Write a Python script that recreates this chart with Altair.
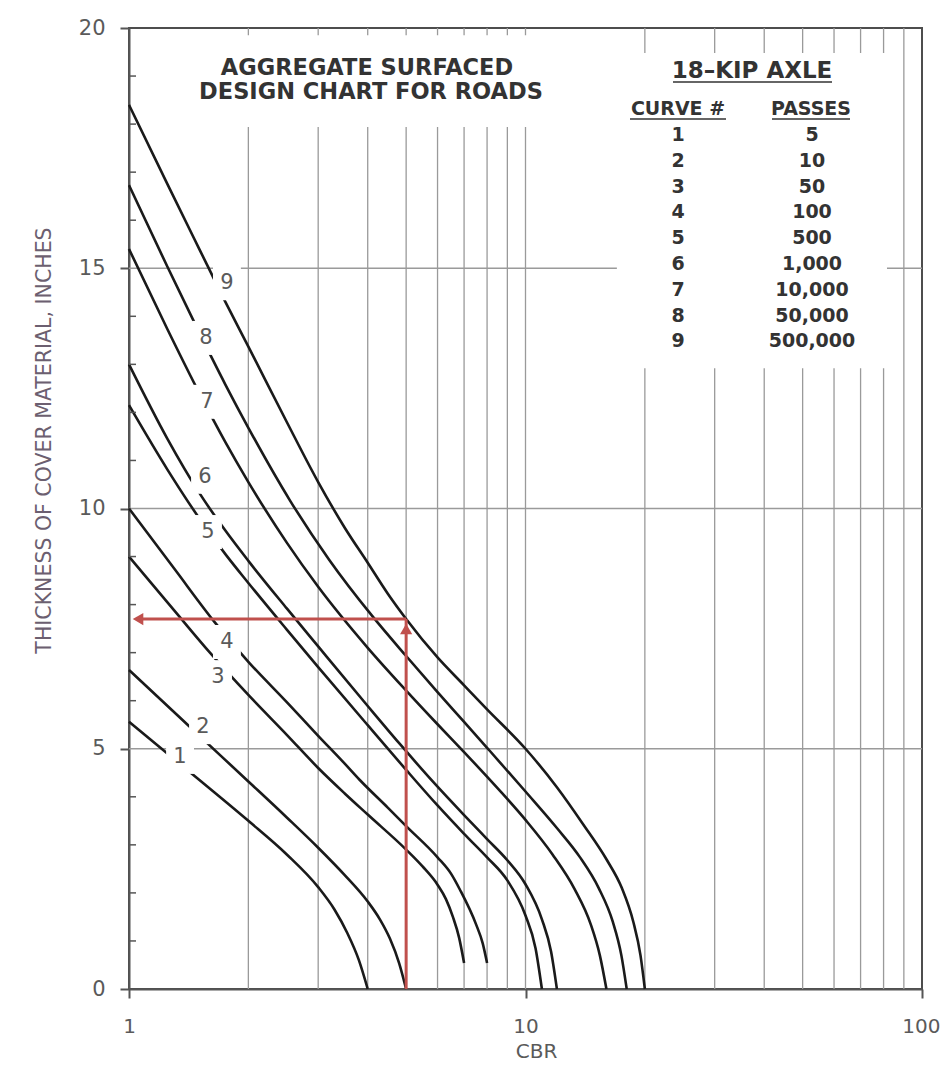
import altair as alt
import pandas as pd

# ---------------- data ----------------
curve_numbers = [1, 2, 3, 4, 5, 6, 7, 8, 9]
passes = ["5", "10", "50", "100", "500", "1,000", "10,000", "50,000", "500,000"]

c1_cbr = [1.0, 1.5, 2.0, 2.5, 3.0, 3.3, 3.55, 3.8, 4.0]
c1_thk = [5.56, 4.36, 3.5, 2.8, 2.12, 1.65, 1.17, 0.6, 0.0]

c2_cbr = [1.0, 1.5, 2.0, 2.5, 3.0, 3.5, 4.0, 4.3, 4.55, 4.8, 5.0]
c2_thk = [6.64, 5.28, 4.32, 3.57, 2.94, 2.37, 1.82, 1.44, 1.05, 0.54, 0.0]

c3_cbr = [1.0, 1.3, 1.6, 2.0, 2.5, 3.0, 3.5, 4.0, 5.0, 5.5, 6.0, 6.3, 6.56, 6.8, 7.0]
c3_thk = [9.0, 7.88, 7.0, 6.12, 5.29, 4.6, 4.07, 3.63, 2.9, 2.55, 2.17, 1.87, 1.5, 1.07, 0.54]

c4_cbr = [1.0, 1.3, 1.65, 2.0, 2.5, 3.0, 3.5, 3.82, 4.5, 5.0, 6.0, 6.5, 6.84, 7.5, 7.8, 8.0]
c4_thk = [10.0, 8.75, 7.62, 6.81, 5.97, 5.27, 4.69, 4.35, 3.77, 3.39, 2.74, 2.39, 2.06, 1.35, 0.95, 0.54]

c5_cbr = [1.0, 1.25, 1.5, 1.75, 2.0, 2.5, 3.0, 4.0, 5.0, 6.0, 7.0, 8.0, 9.0, 10.0, 10.6, 11.0]
c5_thk = [12.15, 10.81, 9.81, 9.05, 8.45, 7.48, 6.7, 5.49, 4.56, 3.82, 3.23, 2.74, 2.26, 1.53, 0.85, 0.0]

c6_cbr = [1.0, 1.25, 1.5, 1.75, 2.0, 2.5, 3.0, 4.0, 4.82, 5.85, 7.0, 8.0, 9.0, 10.0, 11.0, 11.6, 12.0]
c6_thk = [13.0, 11.45, 10.34, 9.54, 8.91, 7.92, 7.13, 5.89, 5.1, 4.31, 3.62, 3.12, 2.68, 2.18, 1.45, 0.78, 0.0]

c7_cbr = [1.0, 1.25, 1.5, 1.75, 2.0, 2.5, 3.0, 4.0, 5.0, 6.0, 7.0, 8.5, 10.0, 11.7, 13.3, 14.6, 15.4, 16.0]
c7_thk = [15.4, 13.73, 12.42, 11.38, 10.55, 9.29, 8.37, 7.1, 6.21, 5.51, 4.93, 4.18, 3.52, 2.8, 2.08, 1.35, 0.7, 0.0]

c8_cbr = [1.0, 1.25, 1.5, 1.75, 2.0, 2.55, 3.2, 4.1, 5.0, 6.0, 7.0, 8.0, 10.0, 12.0, 13.7, 15.3, 16.6, 17.45, 18.0]
c8_thk = [16.73, 15.03, 13.68, 12.58, 11.68, 10.16, 8.93, 7.77, 6.93, 6.18, 5.56, 5.02, 4.11, 3.35, 2.75, 2.1, 1.4, 0.7, 0.0]

c9_cbr = [1.0, 1.25, 1.5, 1.75, 2.0, 2.5, 3.0, 3.5, 4.0, 4.5, 5.0, 6.0, 7.0, 8.0, 10.0, 12.0, 14.0, 16.0, 17.5, 18.7, 19.5, 20.0]
c9_thk = [18.4, 16.75, 15.42, 14.3, 13.37, 11.8, 10.55, 9.6, 8.87, 8.22, 7.7, 6.9, 6.32, 5.82, 5.0, 4.2, 3.42, 2.7, 2.1, 1.4, 0.7, 0.0]

# curve number labels placed along the curves
label_cbr = [1.345, 1.537, 1.677, 1.766, 1.582, 1.555, 1.573, 1.564, 1.766]
label_thk = [4.83, 5.45, 6.49, 7.22, 9.51, 10.66, 12.22, 13.55, 14.69]

# example reading: CBR 5, 500,000 passes -> 7.7 in
arrow_cbr = 5.0
arrow_thk = 7.7
arrow_start_cbr = 1.06

x_ticks = [1, 10, 100]
y_ticks = [0, 5, 10, 15, 20]
grid_x = [2, 3, 4, 5, 6, 7, 8, 9, 10, 20, 30, 40, 50, 60, 70, 80, 90]
grid_y = [5, 10, 15]
minor_y = [1, 2, 3, 4, 6, 7, 8, 9, 11, 12, 13, 14, 16, 17, 18, 19]

# white areas behind the title and the passes table (data units)
box_cbr = [1.425, 17.0]
box_cbr2 = [11.66, 81.6]
box_thk = [17.94, 12.92]
box_thk2 = [19.85, 19.48]

# ---------------- tables ----------------
all_cbr = [c1_cbr, c2_cbr, c3_cbr, c4_cbr, c5_cbr, c6_cbr, c7_cbr, c8_cbr, c9_cbr]
all_thk = [c1_thk, c2_thk, c3_thk, c4_thk, c5_thk, c6_thk, c7_thk, c8_thk, c9_thk]
rows = []
for n, cs, ts in zip(curve_numbers, all_cbr, all_thk):
    for c, t in zip(cs, ts):
        rows.append({"curve": n, "cbr": c, "thk": t})
curves_df = pd.DataFrame(rows)

labels_df = pd.DataFrame({"curve": [str(n) for n in curve_numbers], "cbr": label_cbr, "thk": label_thk})
legend_df = pd.DataFrame({"row": curve_numbers, "num": [str(n) for n in curve_numbers], "passes": passes})
boxes_df = pd.DataFrame({"cbr": box_cbr, "cbr2": box_cbr2, "thk": box_thk, "thk2": box_thk2})
gridx_df = pd.DataFrame({"cbr": grid_x})
gridy_df = pd.DataFrame({"thk": grid_y})
minor_df = pd.DataFrame({"thk": minor_y})
arrow_df = pd.DataFrame({"cbr": [arrow_cbr], "cbr2": [arrow_start_cbr], "thk": [arrow_thk], "thk2": [0.0]})
one = pd.DataFrame({"k": [0]})

# ---------------- styling ----------------
FONT = "DejaVu Sans"
GRAY = "#5a5a5a"
DARK = "#333333"
AXC = "#555555"
RED = "#c0504d"
GRID = "#9a9a9a"

x_scale = alt.Scale(type="log", domain=[1, 100], nice=False)
y_scale = alt.Scale(domain=[0, 20], nice=False, zero=False)

x_axis = alt.Axis(values=x_ticks, format="d", grid=False, tickSize=9, tickWidth=2, tickColor=AXC,
                  domainColor=AXC, domainWidth=2, labelFont=FONT, labelFontSize=20, labelColor=GRAY,
                  labelPadding=18, labelFlush=False,
                  labelAlign={"condition": {"test": "datum.value == 100", "value": "right"}, "value": "center"},
                  labelOffset={"condition": {"test": "datum.value == 100", "value": 18}, "value": 0},
                  title="CBR", titleFont=FONT, titleFontSize=20,
                  titleFontWeight="normal", titleColor=GRAY, titleX=407, titleY=68,
                  titleAlign="center", titleBaseline="alphabetic")
y_axis = alt.Axis(values=y_ticks, format="d", grid=False, tickSize=9, tickWidth=2, tickColor=AXC,
                  domainColor=AXC, domainWidth=2, labelFont=FONT, labelFontSize=21, labelColor=GRAY,
                  labelPadding=15, title="THICKNESS OF COVER  MATERIAL, INCHES", titleFont=FONT,
                  titleFontSize=20.5, titleFontWeight="normal", titleColor="#6c5f70", titleX=-85,
                  titleY=412, titleAngle=270, titleAlign="center", titleBaseline="middle")

X = alt.X("cbr:Q", scale=x_scale, axis=x_axis)
Y = alt.Y("thk:Q", scale=y_scale, axis=y_axis)

vgrid = alt.Chart(gridx_df).mark_rule(color=GRID, strokeWidth=1.3).encode(x=X)
hgrid = alt.Chart(gridy_df).mark_rule(color=GRID, strokeWidth=1.5).encode(y=Y)
boxes = alt.Chart(boxes_df).mark_rect(color="white").encode(x=X, x2="cbr2:Q", y=Y, y2="thk2:Q")

lines = alt.Chart(curves_df).mark_line(color="#1a1a1a", strokeWidth=2.6, interpolate="monotone").encode(
    x=X, y=Y, detail="curve:N")

label_boxes = alt.Chart(labels_df).mark_point(
    shape="M-0.82,-1L0.82,-1L0.82,1L-0.82,1Z", filled=True, color="white", opacity=1, size=1156,
    strokeWidth=0).encode(x=X, y=Y)
label_text = alt.Chart(labels_df).mark_text(font=FONT, fontSize=21, color=GRAY, align="center",
                                            baseline="middle").encode(x=X, y=Y, text="curve:N")

red_v = alt.Chart(arrow_df).mark_rule(color=RED, strokeWidth=3).encode(x=X, y=Y, y2="thk2:Q")
red_h = alt.Chart(arrow_df).mark_rule(color=RED, strokeWidth=3).encode(x=X, x2="cbr2:Q", y=Y)
head_left = alt.Chart(arrow_df).mark_point(shape="triangle-left", filled=True, color=RED, opacity=1,
                                           size=150, xOffset=-1).encode(
    x=alt.X("cbr2:Q", scale=x_scale, axis=x_axis), y=Y)
head_up = alt.Chart(arrow_df).mark_point(shape="triangle-up", filled=True, color=RED, opacity=1,
                                         size=150, yOffset=10).encode(x=X, y=Y)

minor_ticks = alt.Chart(minor_df).mark_rule(color=AXC, strokeWidth=1.5).encode(
    x=alt.value(0), x2=alt.value(7), y=Y)

title1 = alt.Chart(one).mark_text(text="AGGREGATE SURFACED", font=FONT, fontSize=22.5, fontWeight="bold",
                                  color=DARK, align="center", baseline="middle").encode(
    x=alt.value(238), y=alt.value(40))
title2 = alt.Chart(one).mark_text(text="DESIGN CHART FOR ROADS", font=FONT, fontSize=22.5, fontWeight="bold",
                                  color=DARK, align="center", baseline="middle").encode(
    x=alt.value(242), y=alt.value(64))

kip = alt.Chart(one).mark_text(text="18\u2013KIP AXLE", font=FONT, fontSize=23, fontWeight="bold",
                               color=DARK, align="center", baseline="middle").encode(
    x=alt.value(623), y=alt.value(43))
kip_u = alt.Chart(one).mark_rule(color=DARK, strokeWidth=1.6).encode(
    x=alt.value(544), x2=alt.value(703), y=alt.value(54))
h1 = alt.Chart(one).mark_text(text="CURVE #", font=FONT, fontSize=19, fontWeight="bold",
                              color=DARK, align="center", baseline="middle").encode(
    x=alt.value(549), y=alt.value(81))
h1_u = alt.Chart(one).mark_rule(color=DARK, strokeWidth=1.6).encode(
    x=alt.value(501), x2=alt.value(597), y=alt.value(91))
h2 = alt.Chart(one).mark_text(text="PASSES", font=FONT, fontSize=19, fontWeight="bold",
                              color=DARK, align="center", baseline="middle").encode(
    x=alt.value(682), y=alt.value(81))
h2_u = alt.Chart(one).mark_rule(color=DARK, strokeWidth=1.6).encode(
    x=alt.value(643), x2=alt.value(721), y=alt.value(91))

leg_base = alt.Chart(legend_df).transform_calculate(py="107 + 25.8 * (datum.row - 1)")
leg_num = leg_base.mark_text(font=FONT, fontSize=19, fontWeight="bold", color=DARK, align="center",
                             baseline="middle").encode(x=alt.value(549), y=alt.Y("py:Q", scale=None), text="num:N")
leg_pass = leg_base.mark_text(font=FONT, fontSize=19, fontWeight="bold", color=DARK, align="center",
                              baseline="middle").encode(x=alt.value(683), y=alt.Y("py:Q", scale=None), text="passes:N")

chart = alt.layer(
    vgrid, hgrid, boxes, lines, label_boxes, label_text, red_h, red_v, head_left, head_up,
    minor_ticks, title1, title2, kip, kip_u, h1, h1_u, h2, h2_u, leg_num, leg_pass
).properties(
    width=793, height=961,
    autosize=alt.AutoSizeParams(type="none"),
    padding={"left": 121, "top": 20, "right": 18, "bottom": 75},
    background="white",
).configure_view(stroke="#4d4d4d", strokeWidth=2)

chart.save("out.html", embed_options={"renderer": "svg", "actions": False})
